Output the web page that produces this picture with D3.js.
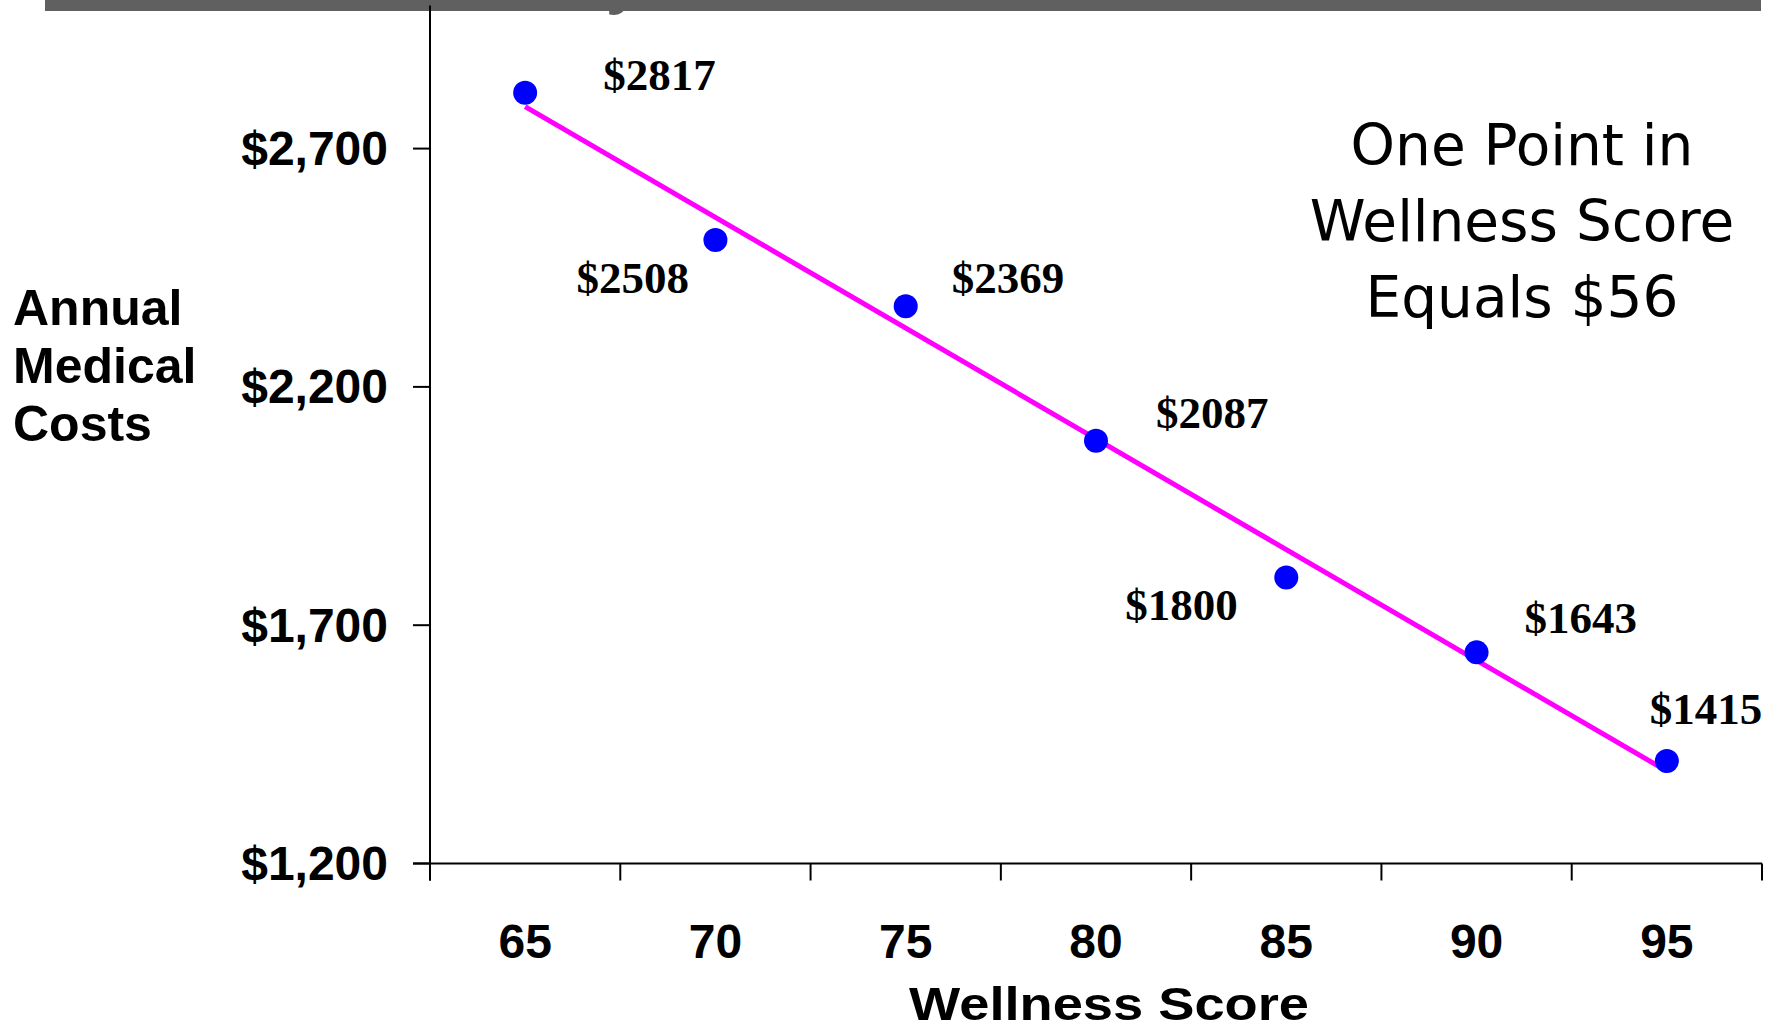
<!DOCTYPE html>
<html>
<head>
<meta charset="utf-8">
<script src="https://cdn.jsdelivr.net/npm/d3@7"></script>
<style>
  html, body { margin: 0; padding: 0; background: #ffffff; }
  svg { display: block; }
</style>
</head>
<body>
<script>
// Wellness score groups and the average annual medical cost in each
const scores = ["65", "70", "75", "80", "85", "90", "95"];
const costs = [2817, 2508, 2369, 2087, 1800, 1643, 1415];
const costLabels = ["$2817", "$2508", "$2369", "$2087", "$1800", "$1643", "$1415"];

// Fitted trend line: cost at the first and last score group
const trendEnds = [2788, 1394];

// Value axis
const yTicks = [1200, 1700, 2200, 2700];
const yDomain = [1200, 3000];

// Where each value label sits relative to its point (left edge, baseline)
const labelOffsets = [[78, -3], [-139, 53], [46, -13], [60, -13], [-161, 42], [48, -19], [-17, -37]];

const W = 1779, H = 1031;
const plot = { left: 430, right: 1762, top: 5.6, bottom: 863.5 };

const svg = d3.select("body").append("svg")
  .attr("width", W).attr("height", H);

// Header rule across the top (with the tail of the cut-off heading)
svg.append("text")
  .attr("x", 606).attr("y", 2)
  .attr("font-family", "Liberation Sans, Arial, sans-serif")
  .attr("font-weight", "bold").attr("font-size", 62)
  .attr("fill", "#606060").text("y");
svg.append("rect")
  .attr("x", 45).attr("y", 0).attr("width", 1716).attr("height", 11)
  .attr("fill", "#606060");

const x = d3.scaleBand().domain(scores).range([plot.left, plot.right]).padding(0);
const y = d3.scaleLinear().domain(yDomain).range([plot.bottom, plot.top]);

const axisColor = "#000000";
const tickLen = 17;

// Y axis line and ticks
svg.append("line")
  .attr("x1", plot.left).attr("x2", plot.left)
  .attr("y1", y(yDomain[1])).attr("y2", plot.bottom + tickLen)
  .attr("stroke", axisColor).attr("stroke-width", 2);

const yG = svg.append("g");
yG.selectAll("line").data(yTicks).join("line")
  .attr("x1", plot.left - tickLen).attr("x2", plot.left)
  .attr("y1", d => y(d)).attr("y2", d => y(d))
  .attr("stroke", axisColor).attr("stroke-width", 2);
yG.selectAll("text").data(yTicks).join("text")
  .attr("x", 388).attr("y", d => y(d) + 16.5)
  .attr("text-anchor", "end")
  .attr("font-family", "Liberation Sans, Arial, sans-serif")
  .attr("font-weight", "bold").attr("font-size", 48)
  .attr("fill", "#000")
  .text(d => "$" + d3.format(",")(d));

// X axis line and ticks at the group boundaries
svg.append("line")
  .attr("x1", plot.left - tickLen).attr("x2", plot.right)
  .attr("y1", plot.bottom).attr("y2", plot.bottom)
  .attr("stroke", axisColor).attr("stroke-width", 2);

const edges = scores.map(s => x(s)).concat([x(scores[scores.length - 1]) + x.bandwidth()]);
const xG = svg.append("g");
xG.selectAll("line").data(edges).join("line")
  .attr("x1", d => d).attr("x2", d => d)
  .attr("y1", plot.bottom).attr("y2", plot.bottom + tickLen)
  .attr("stroke", axisColor).attr("stroke-width", 2);
xG.selectAll("text").data(scores).join("text")
  .attr("x", d => x(d) + x.bandwidth() / 2).attr("y", 958)
  .attr("text-anchor", "middle")
  .attr("font-family", "Liberation Sans, Arial, sans-serif")
  .attr("font-weight", "bold").attr("font-size", 48)
  .attr("fill", "#000")
  .text(d => d);

// Axis titles
svg.append("text")
  .attr("x", 1109).attr("y", 1020)
  .attr("text-anchor", "middle")
  .attr("font-family", "Liberation Sans, Arial, sans-serif")
  .attr("font-weight", "bold").attr("font-size", 47)
  .attr("textLength", 400).attr("lengthAdjust", "spacingAndGlyphs")
  .attr("fill", "#000")
  .text("Wellness Score");

const yTitle = svg.append("text")
  .attr("font-family", "Liberation Sans, Arial, sans-serif")
  .attr("font-weight", "bold").attr("font-size", 50)
  .attr("fill", "#000");
["Annual", "Medical", "Costs"].forEach((t, i) => {
  yTitle.append("tspan").attr("x", 13).attr("y", 325 + i * 58).text(t);
});

// Trend line
const cx = d => x(d) + x.bandwidth() / 2;
svg.append("line")
  .attr("x1", cx(scores[0])).attr("y1", y(trendEnds[0]))
  .attr("x2", cx(scores[scores.length - 1])).attr("y2", y(trendEnds[1]))
  .attr("stroke", "#ff00ff").attr("stroke-width", 5);

// Points
const pts = scores.map((s, i) => ({ s, v: costs[i], label: costLabels[i], off: labelOffsets[i] }));
svg.append("g").selectAll("circle").data(pts).join("circle")
  .attr("cx", d => cx(d.s)).attr("cy", d => y(d.v))
  .attr("r", 12)
  .attr("fill", "#0000ff");

// Value labels
svg.append("g").selectAll("text").data(pts).join("text")
  .attr("x", d => cx(d.s) + d.off[0]).attr("y", d => y(d.v) + d.off[1])
  .attr("font-family", "Liberation Serif, Times New Roman, serif")
  .attr("font-weight", "bold").attr("font-size", 45)
  .attr("fill", "#000")
  .text(d => d.label);

// Annotation
const note = svg.append("text")
  .attr("text-anchor", "middle")
  .attr("font-family", "DejaVu Sans, Verdana, sans-serif")
  .attr("font-size", 56.5)
  .attr("fill", "#000");
["One Point in", "Wellness Score", "Equals $56"].forEach((t, i) => {
  note.append("tspan").attr("x", 1522).attr("y", 165 + i * 76).text(t);
});
</script>
</body>
</html>
